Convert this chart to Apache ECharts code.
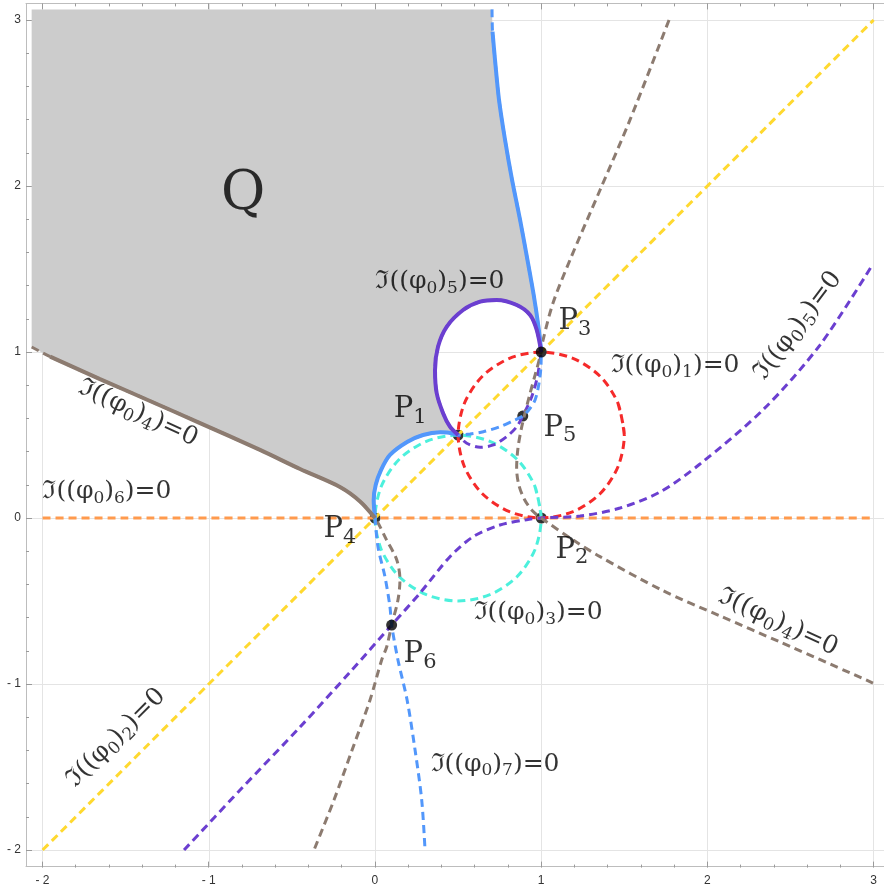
<!DOCTYPE html>
<html><head><meta charset="utf-8">
<script src="https://cdn.jsdelivr.net/npm/echarts@6/dist/echarts.min.js"></script>
<style>html,body{margin:0;padding:0;background:#fff}#c{width:884px;height:888px}</style>
</head><body><div id="c"></div>
<script>
// ---- tick labels ----
const tickValues = [-2, -1, 0, 1, 2, 3];
const tickLabels = ['- 2', '- 1', '0', '1', '2', '3'];

// ---- curves ----
// Im((phi0)_7)=0 : blue
const phi7Upper = [[0.704,3.064],[0.707,2.93],[0.722,2.76],[0.746,2.52],[0.782,2.28],[0.824,2.04],[0.872,1.80],[0.918,1.55],[0.957,1.33],[0.985,1.14],[1.0,1.0]];
const phi7Mid = [[1,1],[0.997,0.892],[0.983,0.791],[0.963,0.711],[0.933,0.661],[0.889,0.614],[0.832,0.586],[0.752,0.55],[0.652,0.52],[0.572,0.506],[0.5,0.5]];
const phi7Arc = [[0.5,0.5],[0.433,0.515],[0.391,0.516],[0.289,0.5],[0.193,0.458],[0.09,0.38],[0.036,0.289],[0.004,0.199],[-0.008,0.108],[0,0]];
const phi7Lower = [[0,0],[0.018,-0.175],[0.06,-0.355],[0.09,-0.536],[0.1,-0.645],[0.138,-0.855],[0.193,-1.096],[0.241,-1.398],[0.281,-1.699],[0.301,-2.0]];
// Im((phi0)_5)=0 : purple
const phi5Loop = [[1,1],[0.973,1.133],[0.933,1.223],[0.853,1.283],[0.732,1.313],[0.632,1.303],[0.53,1.253],[0.431,1.152],[0.379,1.032],[0.361,0.892],[0.371,0.753],[0.409,0.633],[0.451,0.55],[0.5,0.5]];
const phi5Dip = [[0.5,0.5],[0.552,0.45],[0.632,0.426],[0.712,0.44],[0.792,0.49],[0.853,0.55],[0.889,0.614],[0.943,0.731],[0.977,0.851],[1,1]];
const phi5Branch = [[-1.149,-2.0],[-0.812,-1.639],[-0.451,-1.259],[-0.15,-0.928],[0.1,-0.645],[0.271,-0.452],[0.451,-0.233],[0.59,-0.113],[0.752,-0.042],[0.912,-0.01],[1,0],[1.234,0.012],[1.474,0.06],[1.715,0.157],[1.955,0.325],[2.34,0.657],[2.677,1.042],[2.996,1.53]];
// Im((phi0)_4)=0 : brown
const phi4Left = [[-2.066,1.03],[-1.955,0.972],[-1.655,0.837],[-1.354,0.705],[-1.053,0.572],[-0.692,0.41],[-0.451,0.295],[-0.211,0.187],[-0.09,0.1],[0,0]];
const phi4Lower = [[0,0],[0.07,-0.133],[0.131,-0.253],[0.15,-0.373],[0.138,-0.494],[0.1,-0.645],[0.07,-0.777],[0.04,-0.855],[-0.03,-1.096],[-0.138,-1.398],[-0.247,-1.699],[-0.367,-2.0]];
const phi4Right = [[1.769,3.0],[1.534,2.398],[1.354,1.976],[1.173,1.554],[1.071,1.295],[1.011,1.072],[1,1],[0.963,0.861],[0.933,0.751],[0.883,0.55],[0.86,0.42],[0.852,0.3],[0.865,0.2],[0.9,0.11],[0.95,0.04],[1,0],[1.193,-0.133],[1.354,-0.233],[1.725,-0.434],[2.076,-0.59],[2.437,-0.747],[2.996,-0.994]];
// Im((phi0)_2)=0 : yellow ; Im((phi0)_6)=0 : orange
const phi2 = [[-2,-2],[3,3]];
const phi6 = [[-2,0],[3,0]];
// Im((phi0)_1)=0 : red ; Im((phi0)_3)=0 : cyan
const phi1 = [[1.5,0.5],[1.462,0.691],[1.354,0.854],[1.191,0.962],[1,1],[0.809,0.962],[0.646,0.854],[0.538,0.691],[0.5,0.5],[0.538,0.309],[0.646,0.146],[0.809,0.038],[1,0],[1.191,0.038],[1.354,0.146],[1.462,0.309],[1.5,0.5],[1.462,0.691]];
const phi3 = [[1,0],[0.962,0.191],[0.854,0.354],[0.691,0.462],[0.5,0.5],[0.309,0.462],[0.146,0.354],[0.038,0.191],[0,0],[0.038,-0.191],[0.146,-0.354],[0.309,-0.462],[0.5,-0.5],[0.691,-0.462],[0.854,-0.354],[0.962,-0.191],[1,0],[0.962,0.191]];
// special points P1..P6
const pointNames = ['P1','P2','P3','P4','P5','P6'];
const pointsXY = [[0.5,0.5],[1,0],[1,1],[0,0],[0.889,0.614],[0.1,-0.645]];
// corner of region Q
const qCorners = [[-2.066,3.064]];

// ---- annotation texts ----
const annTexts = ['Q','ℑ((φ_0)_5)=0','P_3','ℑ((φ_0)_1)=0','P_1','P_5','ℑ((φ_0)_4)=0','ℑ((φ_0)_6)=0','P_4','P_2','ℑ((φ_0)_3)=0','P_6','ℑ((φ_0)_4)=0','ℑ((φ_0)_5)=0','ℑ((φ_0)_2)=0','ℑ((φ_0)_7)=0'];
const annXY = [[-0.794,1.946],[0.391,1.422],[1.203,1.181],[1.805,0.916],[0.211,0.651],[1.113,0.542],[-1.426,0.633],[-1.613,0.157],[-0.211,-0.072],[1.185,-0.193],[0.981,-0.572],[0.271,-0.825],[2.425,-0.627],[2.545,1.157],[-1.558,-1.325],[0.722,-1.482]];
const annRotate = [0,0,0,0,0,0,-25,0,0,0,0,0,-25,53,45,0];

// ---- build ----
const SERIF = "'DejaVu Serif',serif";
const C = {blue:'#5297fb', purple:'#6b3fd0', brown:'#8c7b70', yellow:'#ffd92f', orange:'#ff9a4d', red:'#f52a2a', cyan:'#4cf0dc'};

function toRich(s) {
  if (s === 'Q') return '{q|Q}';
  const isP = s[0] === 'P';
  const m = isP ? 'p' : 'f', sb = isP ? 'ps' : 'fs';
  let out = '', buf = '';
  for (let i = 0; i < s.length; i++) {
    if (s[i] === '_') {
      if (buf) out += '{' + m + '|' + buf + '}';
      buf = '';
      out += '{' + sb + '|' + s[i+1] + '}';
      i++;
    } else buf += s[i];
  }
  if (buf) out += '{' + m + '|' + buf + '}';
  return out;
}
const rich = {
  q: {fontSize: 54, fontFamily: SERIF, color: '#000'},
  f: {fontSize: 25, fontFamily: SERIF, color: '#000'},
  fs: {fontSize: 17, fontFamily: SERIF, color: '#000', padding: [14,0,0,0]},
  p: {fontSize: 29, fontFamily: SERIF, color: '#000'},
  ps: {fontSize: 21, fontFamily: SERIF, color: '#000', padding: [16,0,0,0]}
};

const regionQ = [].concat(qCorners, phi7Upper, phi5Loop.slice(1), phi7Arc.slice(1), phi4Left.slice().reverse().slice(1));

function dashed(data, color, z) {
  return {type:'line', data, smooth:0.3, symbol:'none', xAxisIndex:0, yAxisIndex:0, silent:true,
    lineStyle:{color, width:3, type:[8,5], cap:'butt'}, z: z || 3};
}
function solid(data, color) {
  return {type:'line', data, smooth:0.3, symbol:'none', xAxisIndex:0, yAxisIndex:0, silent:true,
    lineStyle:{color, width:4}, z: 4};
}

const tickFmt = v => { const i = tickValues.indexOf(Math.round(v)); return i >= 0 ? tickLabels[i] : ''; };

const frameColor = '#bdbdbd';
const tickStyle = {show:true, inside:true, length:6, lineStyle:{color:'#9a9a9a', width:1}};
const minorStyle = {show:true, splitNumber:5, length:3, lineStyle:{color:'#9a9a9a', width:1}};
const labelStyle = {fontSize:12, color:'#333', fontFamily:"'Liberation Sans',Arial,sans-serif"};

const option = {
  animation: false,
  backgroundColor: '#fff',
  grid: [
    {left: 26, top: 3.4, width: 858, height: 863.2},
    {left: 42.5, top: 20, width: 831, height: 830}
  ],
  xAxis: [
    {gridIndex:0, type:'value', min:-2.1, max:3.0625, position:'bottom',
      axisLine:{show:true, onZero:false, lineStyle:{color:frameColor}}, axisTick:{show:false}, axisLabel:{show:false},
      splitLine:{show:true, lineStyle:{color:'#e4e4e4'}}},
    {gridIndex:0, type:'value', min:-2.1, max:3.0625, position:'top',
      axisLine:{show:true, onZero:false, lineStyle:{color:frameColor}}, axisTick:{show:false}, axisLabel:{show:false}, splitLine:{show:false}},
    {gridIndex:1, type:'value', min:-2, max:3, interval:1, position:'bottom', offset:17.6,
      axisLine:{show:false, onZero:false}, axisTick:tickStyle, minorTick:minorStyle,
      axisLabel:Object.assign({show:true, margin:7, formatter:tickFmt}, labelStyle), splitLine:{show:false}},
    {gridIndex:1, type:'value', min:-2, max:3, interval:1, position:'top', offset:16.6,
      axisLine:{show:false, onZero:false}, axisTick:tickStyle, minorTick:minorStyle, axisLabel:{show:false}, splitLine:{show:false}}
  ],
  yAxis: [
    {gridIndex:0, type:'value', min:-2.1, max:3.1, position:'left',
      axisLine:{show:true, onZero:false, lineStyle:{color:frameColor}}, axisTick:{show:false}, axisLabel:{show:false},
      splitLine:{show:true, lineStyle:{color:'#e4e4e4'}}},
    {gridIndex:1, type:'value', min:-2, max:3, interval:1, position:'left', offset:16.5,
      axisLine:{show:false, onZero:false}, axisTick:tickStyle, minorTick:minorStyle,
      axisLabel:Object.assign({show:true, margin:5, formatter:tickFmt}, labelStyle), splitLine:{show:false}}
  ],
  series: [
    {type:'custom', xAxisIndex:0, yAxisIndex:0, silent:true, z:1, data:[[0,0]],
      renderItem: (params, api) => ({type:'polygon', shape:{points: regionQ.map(p => api.coord(p))}, style:{fill:'#cccccc'}})},
    {type:'scatter', xAxisIndex:0, yAxisIndex:0, silent:true, z:2, symbolSize:11, itemStyle:{color:'#000'},
      data: pointsXY.filter((p,i) => i !== 2 && i !== 5)},
    dashed(phi6, C.orange),
    dashed(phi2, C.yellow),
    dashed(phi3, C.cyan),
    dashed(phi1, C.red),
    dashed(phi5Branch, C.purple),
    dashed(phi5Loop.concat(phi5Dip.slice(1)), C.purple),
    dashed(phi4Left.concat(phi4Lower.slice(1)), C.brown),
    dashed(phi4Right, C.brown),
    dashed(phi7Upper.concat(phi7Mid.slice(1), phi7Arc.slice(1), phi7Lower.slice(1)), C.blue),
    solid(phi7Upper.slice(1), C.blue),
    solid(phi7Arc, C.blue),
    solid(phi5Loop, C.purple),
    solid(phi4Left.slice(1), C.brown),
    {type:'scatter', xAxisIndex:0, yAxisIndex:0, silent:true, z:5, symbolSize:11, itemStyle:{color:'#000'},
      data: [pointsXY[2], pointsXY[5]]},
    {type:'scatter', xAxisIndex:0, yAxisIndex:0, silent:true, z:6, symbolSize:0,
      data: annTexts.map((t,i) => ({value: annXY[i], label:{show:true, position:'inside', rotate: annRotate[i], formatter: toRich(t), rich}}))}
  ]
};
const chart = echarts.init(document.getElementById('c'), null, {renderer:'canvas'});
chart.setOption(option);
</script></body></html>
